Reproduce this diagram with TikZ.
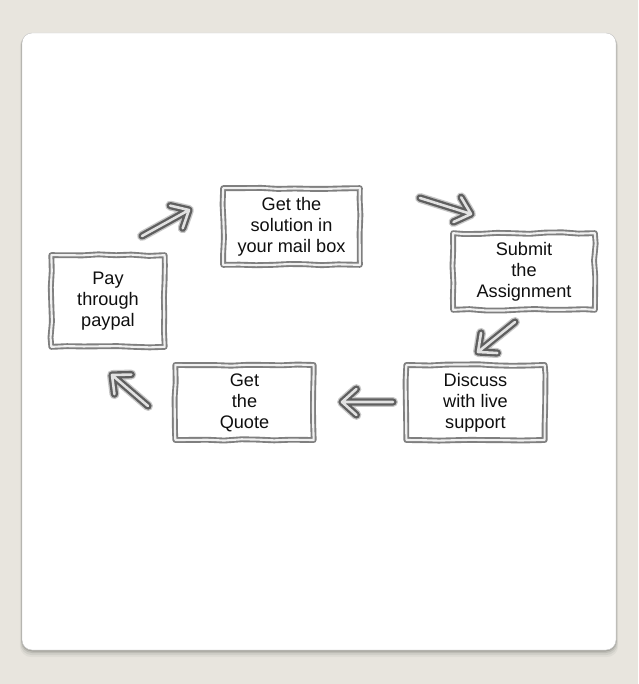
\documentclass[tikz,border=0pt]{standalone}
\usepackage{fontspec}
\setmainfont{Liberation Sans}
\usetikzlibrary{calc,decorations.pathmorphing}
\definecolor{bg}{RGB}{232,229,222}
\definecolor{edge}{RGB}{95,95,95}
\definecolor{halo}{RGB}{200,200,200}
\definecolor{inner}{RGB}{225,225,225}
\definecolor{txt}{RGB}{15,15,15}
\newcommand\flowarrow[2]{%
  \foreach \lw/\col in {8.5pt/halo,6.2pt/edge,2.2pt/inner}{%
    \draw[line width=\lw, color=\col, line cap=round, line join=round]
      (#1) -- ($(#2)!0.08cm!(#1)$)
      ($(#2)!0.58cm!42:(#1)$) -- (#2) -- ($(#2)!0.58cm!-42:(#1)$);
  }}
\begin{document}
\begin{tikzpicture}[x=0.03cm,y=-0.03cm,
  box/.style={draw=edge!80, line width=1.6pt, double=inner!50, double distance=1.8pt,
    line join=round, decorate,
    decoration={random steps, segment length=14pt, amplitude=0.7pt},
    align=center, text=txt, inner sep=0pt,
    font=\fontsize{15.5}{18}\selectfont}]
\pgfmathsetseed{7}
\useasboundingbox (0,0) rectangle (638,684);
\fill[bg] (0,0) rectangle (638,684);
\foreach \i/\o in {7/0.04,5/0.06,3/0.09,1.5/0.12}
  \fill[black,opacity=\o,rounded corners=0.33cm] (22-\i*0.3,33+\i*0.3) rectangle (616+\i*0.3,650+\i);
\filldraw[fill=white, draw=gray!45, line width=0.4pt, rounded corners=0.3cm] (22,33) rectangle (616,650);

\node[box, minimum width=4.1cm, minimum height=2.3cm] (mail) at (291.5,226.5) {Get the\\solution in\\your mail box};
\node[box, minimum width=4.25cm, minimum height=2.3cm] (submit) at (524,271.5) {Submit\\the\\Assignment};
\node[box, minimum width=4.15cm, minimum height=2.25cm] (discuss) at (475.5,402.5) {Discuss\\with live\\support};
\node[box, minimum width=4.15cm, minimum height=2.25cm] (quote) at (244.5,402.5) {Get\\the\\Quote};
\node[box, minimum width=3.4cm, minimum height=2.75cm] (pay) at (108,301) {Pay\\through\\paypal};

\coordinate (a1s) at (142,236); \coordinate (a1e) at (189,210);
\coordinate (a2s) at (420,198); \coordinate (a2e) at (471,214);
\coordinate (a3s) at (515,322); \coordinate (a3e) at (478,352);
\coordinate (a4s) at (393,402); \coordinate (a4e) at (342,402);
\coordinate (a5s) at (148,406); \coordinate (a5e) at (112,375);
\flowarrow{a1s}{a1e}
\flowarrow{a2s}{a2e}
\flowarrow{a3s}{a3e}
\flowarrow{a4s}{a4e}
\flowarrow{a5s}{a5e}
\end{tikzpicture}
\end{document}
